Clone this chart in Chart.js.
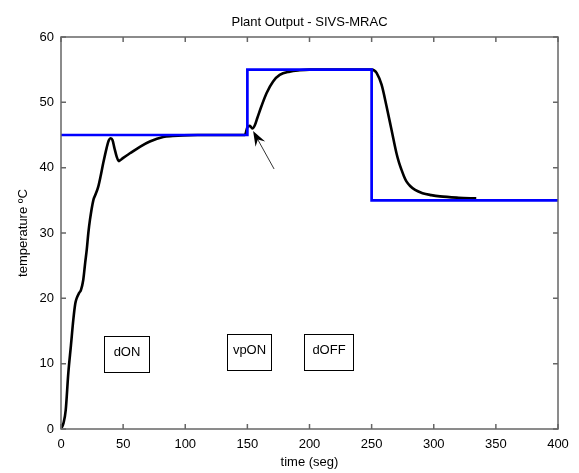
<!DOCTYPE html>
<html>
<head>
<meta charset="utf-8">
<script src="https://cdn.jsdelivr.net/npm/chart.js@4"></script>
<style>
  html, body { margin: 0; padding: 0; background: #fff; }
  #wrap { width: 579px; height: 473px; }
</style>
</head>
<body>
<div id="wrap"><canvas id="myChart" width="579" height="473"></canvas></div>
<script>
const chartTitle = 'Plant Output - SIVS-MRAC';

// reference (setpoint) - step signal
const refTime = [0, 150, 150, 250, 250, 400];
const refTemp = [45, 45, 55, 55, 35, 35];

// plant output
const outTime = [0, 2, 3.8, 5.9, 8, 9.9, 11.5, 12.6, 14.5, 16.1, 17.9, 19.5, 20.7, 22, 23.3, 26, 28, 30, 32, 34,
  36.7, 38.5, 40, 41.5, 43, 44.8, 46.6, 48, 50.1, 55.5, 63.5, 71.5, 82.2, 90, 98.3, 110, 130, 148,
  150, 152, 154, 156, 158, 161.3, 165.4, 170.7, 176, 184, 192, 200, 225, 249.8,
  252, 254, 258, 262, 266, 270, 272, 274, 276, 278, 281, 285, 291, 298, 305, 320, 334.2];
const outTemp = [0, 0.9, 2.9, 8.6, 12.8, 16.7, 19.2, 20.0, 20.8, 21.3, 22.8, 25.5, 27.4, 30, 32, 35, 36, 37.1, 38.8, 40.7,
  43, 44.2, 44.5, 44.2, 43, 41.7, 41.0, 41.2, 41.5, 42.2, 43.2, 44, 44.7, 44.85, 44.95, 45, 45, 45,
  46.2, 46.4, 46.0, 46.5, 47.6, 49.4, 51.4, 53.2, 54.2, 54.7, 54.9, 55, 55, 55,
  54.9, 54.5, 52.7, 49.4, 45.8, 42.2, 40.8, 39.7, 38.7, 37.9, 37.2, 36.6, 36.1, 35.8, 35.6, 35.4, 35.3];

// text boxes: label, x0, x1, y0, y1 (data units)
const boxLabels = ['dON', 'vpON', 'dOFF'];
const boxX0 = [34.6, 133.4, 195.3];
const boxX1 = [71, 168.8, 235];
const boxY0 = [8.7, 9, 9];
const boxY1 = [14.3, 14.5, 14.5];

// arrow: from tail to tip (data units)
const arrowFrom = [171.5, 39.8];
const arrowTo = [154.6, 45.6];

const FONT = 'Liberation Sans, Arial, Helvetica, sans-serif';

function pts(xs, ys) {
  return xs.map((x, i) => ({x: x, y: ys[i]}));
}

const matlabAxes = {
  id: 'matlabAxes',
  afterDraw(chart) {
    const ctx = chart.ctx;
    const a = chart.chartArea;
    const xs = chart.scales.x, ys = chart.scales.y;
    ctx.save();

    // title centred over the axes
    ctx.font = '13px ' + FONT;
    ctx.fillStyle = '#000';
    ctx.textAlign = 'center';
    ctx.textBaseline = 'middle';
    ctx.fillText(chartTitle, (a.left + a.right) / 2, 22);

    // annotation boxes
    ctx.strokeStyle = '#000';
    ctx.lineWidth = 1;
    for (let i = 0; i < boxLabels.length; i++) {
      const x0 = Math.round(xs.getPixelForValue(boxX0[i])) + 0.5;
      const x1 = Math.round(xs.getPixelForValue(boxX1[i])) + 0.5;
      const y0 = Math.round(ys.getPixelForValue(boxY1[i])) + 0.5;
      const y1 = Math.round(ys.getPixelForValue(boxY0[i])) + 0.5;
      ctx.strokeRect(x0, y0, x1 - x0, y1 - y0);
      ctx.fillText(boxLabels[i], (x0 + x1) / 2, (y0 + y1) / 2 - 2);
    }

    // arrow
    const tx = xs.getPixelForValue(arrowFrom[0]), ty = ys.getPixelForValue(arrowFrom[1]);
    const hx = xs.getPixelForValue(arrowTo[0]), hy = ys.getPixelForValue(arrowTo[1]);
    const ang = Math.atan2(hy - ty, hx - tx);
    const c = Math.cos(ang), s = Math.sin(ang);
    const hl = 15, hw = 5.5;
    ctx.strokeStyle = '#333';
    ctx.lineWidth = 1;
    ctx.beginPath();
    ctx.moveTo(tx, ty);
    ctx.lineTo(hx - c * hl * 0.6, hy - s * hl * 0.6);
    ctx.stroke();
    ctx.fillStyle = '#000';
    ctx.beginPath();
    ctx.moveTo(hx, hy);
    ctx.lineTo(hx - c * hl - s * hw, hy - s * hl + c * hw);
    ctx.lineTo(hx - c * hl * 0.65, hy - s * hl * 0.65);
    ctx.lineTo(hx - c * hl + s * hw, hy - s * hl - c * hw);
    ctx.closePath();
    ctx.fill();

    // frame
    ctx.strokeStyle = '#666';
    ctx.lineWidth = 1.5;
    ctx.strokeRect(a.left, a.top, a.right - a.left, a.bottom - a.top);

    // inward ticks on all sides
    const tl = 5;
    ctx.beginPath();
    xs.ticks.forEach(t => {
      const p = xs.getPixelForValue(t.value);
      ctx.moveTo(p, a.bottom); ctx.lineTo(p, a.bottom - tl);
      ctx.moveTo(p, a.top); ctx.lineTo(p, a.top + tl);
    });
    ys.ticks.forEach(t => {
      const p = ys.getPixelForValue(t.value);
      ctx.moveTo(a.left, p); ctx.lineTo(a.left + tl, p);
      ctx.moveTo(a.right, p); ctx.lineTo(a.right - tl, p);
    });
    ctx.stroke();
    ctx.restore();
  }
};

const ctx = document.getElementById('myChart');

new Chart(ctx, {
  type: 'scatter',
  data: {
    datasets: [{
      label: 'reference',
      data: pts(refTime, refTemp),
      showLine: true,
      borderColor: '#0000ff',
      borderWidth: 2.7,
      pointRadius: 0,
      tension: 0,
      order: 0
    }, {
      label: 'output',
      data: pts(outTime, outTemp),
      showLine: true,
      borderColor: '#000000',
      borderWidth: 2.6,
      pointRadius: 0,
      cubicInterpolationMode: 'monotone',
      order: 1
    }]
  },
  options: {
    responsive: false,
    animation: false,
    layout: { padding: { left: 0, right: 21, top: 37, bottom: 0 } },
    plugins: {
      legend: { display: false },
      tooltip: { enabled: false },
      title: { display: false }
    },
    scales: {
      x: {
        type: 'linear',
        min: 0, max: 400,
        grid: { display: false, drawTicks: false },
        border: { display: false },
        ticks: { stepSize: 50, color: '#000', padding: 8, maxRotation: 0,
          font: { family: FONT, size: 13 } },
        title: { display: true, text: 'time (seg)', color: '#000',
          font: { family: FONT, size: 13 }, padding: { top: 0, bottom: 3 } },
        afterFit(scale) { scale.height = 44; }
      },
      y: {
        type: 'linear',
        min: 0, max: 60,
        grid: { display: false, drawTicks: false },
        border: { display: false },
        ticks: { stepSize: 10, color: '#000', padding: 7,
          font: { family: FONT, size: 13 } },
        title: { display: true, text: 'temperature ºC', color: '#000',
          font: { family: FONT, size: 13 }, padding: { top: 16, bottom: 0 } },
        afterFit(scale) { scale.width = 61; }
      }
    }
  },
  plugins: [matlabAxes]
});
</script>
</body>
</html>
